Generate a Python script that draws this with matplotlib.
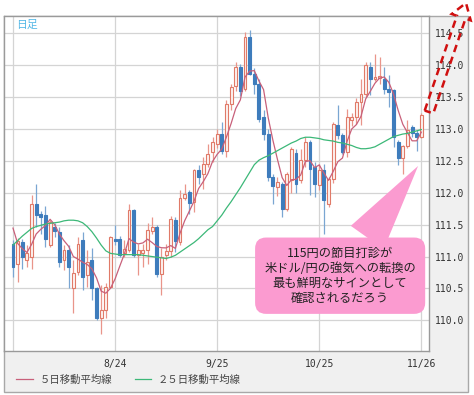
import numpy as np
import pandas as pd
import matplotlib
matplotlib.use("Agg")
import matplotlib.pyplot as plt
from matplotlib.patches import Rectangle, Polygon

# USD/JPY daily candles, 2018-07-25 .. 2018-11-26
dates = pd.bdate_range("2018-07-25", "2018-11-26")
label_dates = ["2018-07-25", "2018-08-24", "2018-09-25", "2018-10-25", "2018-11-26"]
tick_labels = ["", "8/24", "9/25", "10/25", "11/26"]

opens = [111.19, 110.88, 111.23, 110.94, 111.00, 111.83, 111.67, 111.65, 111.18, 111.47,
         111.39, 110.94, 111.10, 110.50, 110.76, 111.26, 110.71, 110.94, 110.50, 110.03,
         110.16, 110.52, 111.28, 111.27, 111.05, 111.10, 111.73, 111.02, 111.05, 111.10,
         111.40, 111.47, 110.72, 111.03, 111.09, 111.58, 111.23, 111.91, 112.01, 111.85,
         112.35, 112.30, 112.45, 112.64, 112.77, 112.92, 112.66, 113.39, 113.68, 113.97,
         113.63, 114.44, 113.86, 113.71, 113.18, 112.92, 112.24, 112.09, 112.13, 111.75,
         112.20, 112.62, 112.20, 112.51, 112.80, 112.40, 112.12, 112.35, 111.83, 112.22,
         113.06, 112.90, 112.64, 113.14, 113.19, 113.42, 113.55, 113.97, 113.79, 113.80,
         113.79, 113.63, 113.61, 112.80, 112.54, 112.74, 113.03, 112.93, 112.88]
highs = [111.26, 111.29, 111.27, 111.18, 111.96, 112.13, 111.72, 111.80, 111.57, 111.52,
         111.47, 111.18, 111.18, 110.94, 111.31, 111.39, 111.10, 111.13, 110.52, 110.55,
         110.58, 111.33, 111.49, 111.33, 111.26, 111.83, 111.75, 111.20, 111.20, 111.52,
         111.62, 111.50, 111.13, 111.20, 111.64, 111.62, 112.04, 112.14, 112.05, 112.37,
         112.43, 112.56, 112.77, 112.87, 113.00, 113.11, 113.45, 113.70, 114.05, 114.02,
         114.52, 114.55, 113.95, 113.79, 113.29, 113.00, 112.30, 112.25, 112.17, 112.32,
         112.71, 112.69, 112.68, 112.87, 112.82, 112.48, 112.45, 112.45, 112.25, 113.11,
         113.37, 112.93, 113.32, 113.25, 113.48, 113.79, 114.05, 114.05, 114.18, 114.12,
         113.97, 113.85, 113.63, 112.82, 112.75, 113.14, 113.06, 112.98, 113.25]
lows = [110.68, 110.60, 110.80, 110.84, 110.81, 111.47, 111.35, 111.15, 111.15, 111.30,
        110.84, 110.79, 110.50, 110.11, 110.71, 110.47, 110.52, 110.32, 110.00, 109.79,
        110.03, 110.50, 111.18, 110.99, 110.99, 111.07, 110.99, 110.71, 110.84, 110.89,
        111.36, 110.68, 110.39, 110.95, 111.00, 111.07, 111.18, 111.88, 111.67, 111.70,
        112.14, 112.06, 112.40, 112.48, 112.70, 112.61, 112.56, 113.30, 113.60, 113.52,
        113.60, 113.84, 113.55, 113.11, 112.82, 112.19, 111.83, 111.95, 111.62, 111.72,
        111.99, 111.99, 112.15, 112.40, 111.96, 111.93, 112.05, 111.36, 111.78, 112.15,
        112.85, 112.60, 112.56, 113.05, 113.08, 113.06, 113.50, 113.53, 113.75, 113.70,
        113.55, 113.35, 112.72, 112.43, 112.30, 112.70, 112.88, 112.66, 112.86]
closes = [110.83, 111.25, 110.99, 111.05, 111.83, 111.65, 111.62, 111.28, 111.54, 111.40,
          110.92, 111.10, 110.84, 110.74, 111.20, 110.68, 110.92, 110.50, 110.03, 110.16,
          110.52, 111.30, 111.24, 111.02, 111.12, 111.73, 111.02, 111.10, 111.10, 111.41,
          111.46, 110.72, 111.00, 111.09, 111.59, 111.24, 111.91, 111.98, 111.84, 112.36,
          112.24, 112.45, 112.61, 112.79, 112.92, 112.66, 113.39, 113.66, 113.97, 113.60,
          114.44, 113.86, 113.70, 113.16, 112.92, 112.24, 112.11, 112.17, 111.75, 112.30,
          112.69, 112.14, 112.51, 112.80, 112.38, 112.14, 112.35, 111.88, 112.22, 113.08,
          112.90, 112.64, 113.19, 113.19, 113.42, 113.55, 114.00, 113.79, 113.82, 113.83,
          113.63, 113.58, 112.88, 112.54, 112.74, 112.98, 112.93, 112.88, 113.22]
# closes of the four sessions before the window, for the 5-day average
prior_closes = [112.45, 111.40, 111.35, 111.20]

# 25-day average as drawn
ma25 = [111.18, 111.25, 111.32, 111.38, 111.44, 111.47, 111.49, 111.51, 111.52, 111.53,
        111.54, 111.56, 111.57, 111.57, 111.56, 111.53, 111.47, 111.39, 111.29, 111.18,
        111.09, 111.05, 111.04, 111.03, 111.03, 111.03, 111.03, 111.03, 111.02, 111.01,
        111.00, 110.99, 110.98, 110.97, 110.99, 111.02, 111.07, 111.12, 111.17, 111.22,
        111.28, 111.35, 111.42, 111.47, 111.56, 111.65, 111.76, 111.86, 111.97, 112.08,
        112.20, 112.32, 112.44, 112.51, 112.55, 112.58, 112.62, 112.66, 112.70, 112.74,
        112.78, 112.81, 112.85, 112.87, 112.87, 112.86, 112.85, 112.83, 112.82, 112.81,
        112.79, 112.78, 112.76, 112.74, 112.71, 112.69, 112.69, 112.70, 112.72, 112.76,
        112.80, 112.84, 112.88, 112.90, 112.92, 112.93, 112.95, 112.97, 112.99]

note = "115円の節目打診が\n米ドル/円の強気への転換の\n最も鮮明なサインとして\n確認されるだろう"

W, H = 474, 395
fig = plt.figure(figsize=(W / 100, H / 100), dpi=100)
fig.patch.set_facecolor("white")
fig.patches.append(Rectangle((4 / W, 3 / H), 464 / W, 376 / H, transform=fig.transFigure,
                             facecolor="#f0f0f0", edgecolor="#a8a8a8", lw=1, zorder=-5))

ax = fig.add_axes([4 / W, 44 / H, 425 / W, 335 / H])
ax.set_facecolor("white")

o = np.array(opens); h = np.array(highs); l = np.array(lows); c = np.array(closes)
x = np.arange(len(dates))
up = c >= o
dn = ~up

ax.vlines(x[up], l[up], h[up], color="#e9958a", lw=0.9, zorder=2)
ax.vlines(x[dn], l[dn], h[dn], color="#7aa6d2", lw=0.9, zorder=2)
ax.bar(x[up], np.maximum(c - o, 0.02)[up], bottom=o[up], width=0.62,
       color="#fdf3f1", edgecolor="#e07a68", lw=0.8, zorder=3)
ax.bar(x[dn], np.maximum(o - c, 0.02)[dn], bottom=c[dn], width=0.62,
       color="#3e7cbc", edgecolor="#3e7cbc", lw=0.8, zorder=3)

ma5 = pd.Series(prior_closes + closes).rolling(5).mean().to_numpy()[len(prior_closes):]
l5, = ax.plot(x, ma5, color="#c8607a", lw=0.9, zorder=4, label="５日移動平均線")
l25, = ax.plot(x, ma25, color="#3cb878", lw=0.9, zorder=4, label="２５日移動平均線")

ax.set_xlim(-1.94, 89.65)
ax.set_ylim(109.52, 114.77)

tick_pos = [dates.get_loc(pd.Timestamp(d)) for d in label_dates]
ax.set_xticks(tick_pos)
ax.set_xticklabels(tick_labels, family="DejaVu Sans Mono", fontsize=7, color="#333333")
yt = np.arange(110.0, 114.51, 0.5)
ax.set_yticks(yt)
ax.set_yticklabels([f"{v:.1f}" for v in yt], family="DejaVu Sans Mono", fontsize=7, color="#333333")
ax.yaxis.tick_right()
ax.tick_params(axis="y", length=0, pad=4)
ax.tick_params(axis="x", length=0, pad=6)
ax.grid(True, color="#d4d4d4", lw=0.9, zorder=0)
ax.set_axisbelow(True)
for s in ax.spines.values():
    s.set_color("#9a9a9a")
    s.set_linewidth(1)

ax.text(0.028, 0.973, "日足", transform=ax.transAxes, family="Noto Sans CJK JP",
        fontsize=7.8, color="#55b8e6", va="center", ha="left")

ax.annotate(note, xy=(87.3, 112.42), xytext=(70.5, 110.70), textcoords="data",
            family="Noto Sans CJK JP", fontsize=8.8, color="#222222",
            ha="center", va="center", linespacing=1.2, zorder=6,
            bbox=dict(boxstyle="round,pad=0.75,rounding_size=0.9", fc="#fb9bd0", ec="none"),
            arrowprops=dict(arrowstyle="wedge,tail_width=3.3", fc="#fb9bd0", ec="none",
                            shrinkA=0, shrinkB=0))

# dashed red block arrow in the upper right corner
arrow_px = [(424.7, 110.6), (456.9, 15.8), (451.7, 14.0), (466.0, 3.0),
            (470.7, 20.4), (465.5, 18.6), (433.3, 113.4)]
fig.patches.append(Polygon([(px / W, 1 - py / H) for px, py in arrow_px], closed=True,
                           transform=fig.transFigure, fill=False, edgecolor="#d01010",
                           lw=1.8, linestyle=(0, (3, 2)), zorder=10))

fig.legend(handles=[l5, l25], loc="center left", bbox_to_anchor=(7 / W, 1 - 380 / H),
           ncol=2, frameon=False, prop={"family": "Noto Sans CJK JP", "size": 7.5},
           labelcolor="#444444", handlelength=1.6, handletextpad=0.6, columnspacing=2.2)

fig.savefig("out.png", dpi=100)
